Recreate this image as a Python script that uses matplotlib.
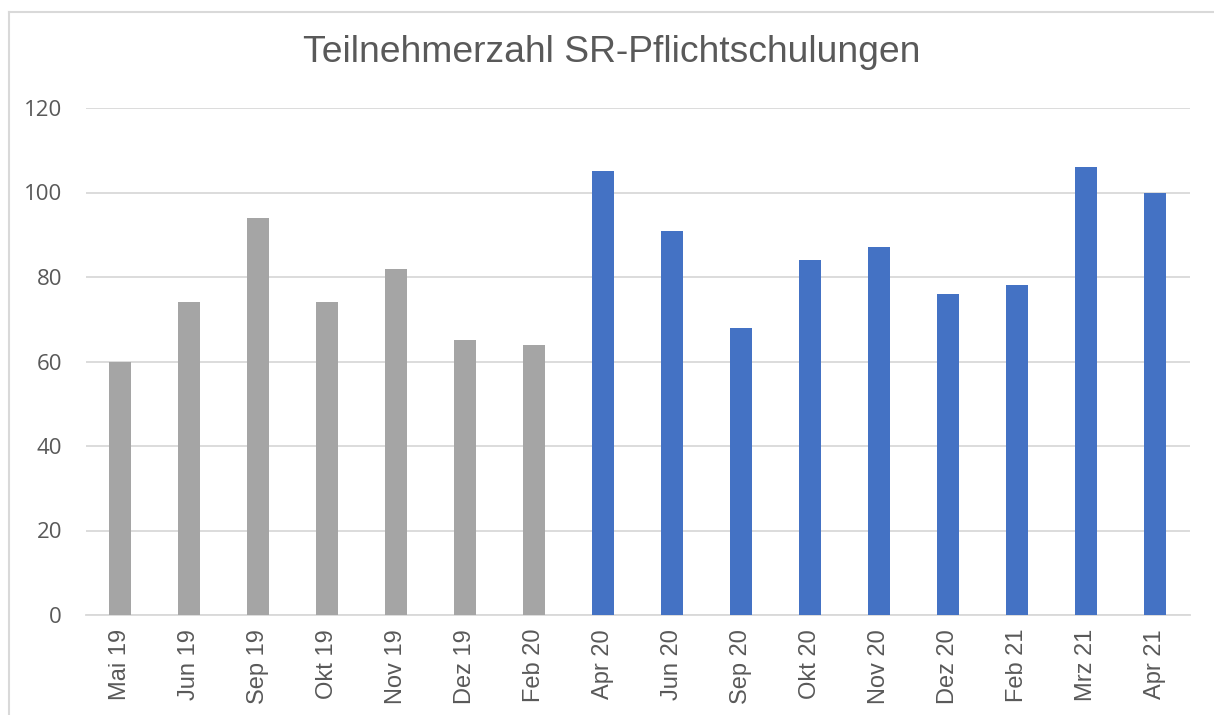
import matplotlib.pyplot as plt
from matplotlib.lines import Line2D

# Teilnehmer je Schulungstermin
months = ['Mai 19', 'Jun 19', 'Sep 19', 'Okt 19', 'Nov 19', 'Dez 19', 'Feb 20',
          'Apr 20', 'Jun 20', 'Sep 20', 'Okt 20', 'Nov 20', 'Dez 20', 'Feb 21',
          'Mrz 21', 'Apr 21']
participants = [60, 74, 94, 74, 82, 65, 64,
                105, 91, 68, 84, 87, 76, 78, 106, 100]
# ab Apr 20 in blau
is_new = [m >= 7 for m in range(len(months))]

GREY = '#A5A5A5'
BLUE = '#4472C4'
TEXT = '#595959'
GRID = '#D9D9D9'

W, H = 1214, 715
fig = plt.figure(figsize=(W / 100, H / 100), dpi=100)

# Excel-Diagrammrahmen (oben und links sichtbar)
fig.add_artist(Line2D([9 / W, 9 / W], [0, 1 - 12 / H], transform=fig.transFigure,
                      color=GRID, lw=1.5))
fig.add_artist(Line2D([9 / W, 1], [1 - 12 / H, 1 - 12 / H], transform=fig.transFigure,
                      color=GRID, lw=1.5))

ax = fig.add_axes([85.5 / W, 1 - 615 / H, (1189.5 - 85.5) / W, (615 - 108) / H])

colors = [BLUE if n else GREY for n in is_new]
x = range(len(months))
ax.bar(x, participants, width=0.32, color=colors, zorder=3)

ax.set_xlim(-0.5, len(months) - 0.5)
ax.set_ylim(0, 120)
ax.set_yticks(range(0, 121, 20))
ax.set_xticks(list(x))
ax.set_xticklabels(months, rotation=90, fontsize=17, color=TEXT,
                   family='Liberation Sans')
for lbl in ax.get_yticklabels():
    lbl.set_fontsize(16)
    lbl.set_color(TEXT)
    lbl.set_family('Open Sans')

ax.grid(axis='y', color=GRID, lw=1.3, zorder=0)
for s in ['top', 'right', 'left']:
    ax.spines[s].set_visible(False)
ax.spines['bottom'].set_color(GRID)
ax.spines['bottom'].set_linewidth(1.3)
ax.tick_params(axis='both', length=0)
ax.tick_params(axis='y', pad=17)
ax.tick_params(axis='x', pad=10)

fig.text(612 / W, 1 - 53 / H, 'Teilnehmerzahl SR-Pflichtschulungen',
         ha='center', va='center', fontsize=26.8, color=TEXT,
         family='Liberation Sans')

plt.savefig('out.png', dpi=100)
